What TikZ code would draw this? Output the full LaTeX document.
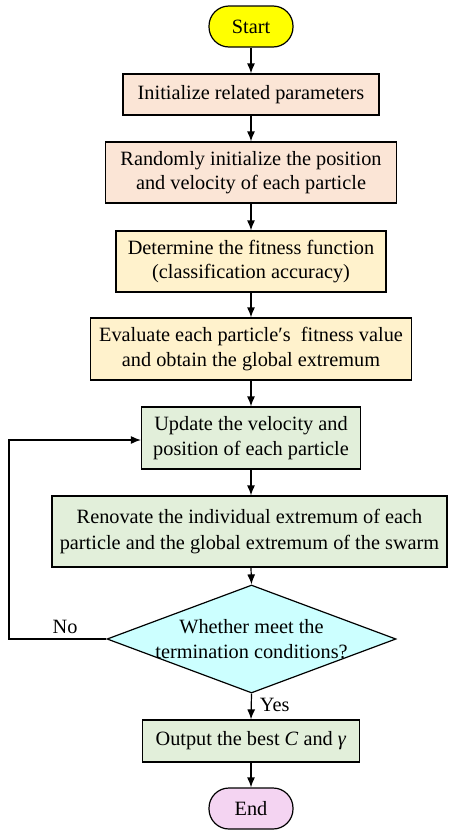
\documentclass[tikz,border=0pt]{standalone}
\usepackage{fontspec}
\setmainfont{Liberation Serif}
\usetikzlibrary{shapes.geometric,arrows.meta}
\definecolor{cstart}{HTML}{FFFF00}
\definecolor{cpeach}{HTML}{FBE5D6}
\definecolor{cyel}{HTML}{FFF2CC}
\definecolor{cgreen}{HTML}{E2EFDA}
\definecolor{ccyan}{HTML}{CCFFFF}
\definecolor{cpink}{HTML}{F4D4F2}
\begin{document}
\begin{tikzpicture}[x=1pt,y=-1pt,
  font=\fontsize{20.3}{24.5}\selectfont,
  box/.style={draw, line width=1.2pt, inner sep=0pt, align=center},
  term/.style={draw, line width=1.2pt, inner sep=0pt, rounded corners=20pt, minimum width=84pt, minimum height=41pt},
  arr/.style={line width=1.2pt, -{Latex[length=10pt,width=8pt]}},
  lbl/.style={inner sep=0pt}]
\useasboundingbox (0,0) rectangle (448,830);
\node[term, fill=cstart] (start) at (251,26.5) {Start};
\node[box, fill=cpeach, minimum width=256pt, minimum height=41pt] (b1) at (251,94.5) {Initialize related parameters};
\node[box, fill=cpeach, minimum width=291pt, minimum height=61pt] (b2) at (251,172.5) {Randomly initialize the position\\and velocity of each particle};
\node[box, fill=cyel, minimum width=270pt, minimum height=61pt] (b3) at (251,261.5) {Determine the fitness function\\(classification accuracy)};
\node[box, fill=cyel, minimum width=321pt, minimum height=62pt] (b4) at (251,349) {Evaluate each particle\char"2032s\ \ fitness value\\and obtain the global extremum};
\node[box, fill=cgreen, minimum width=219pt, minimum height=62pt] (b5) at (251,438) {Update the velocity and\\position of each particle};
\node[box, fill=cgreen, minimum width=395pt, minimum height=71pt, font=\fontsize{20.3}{26.5}\selectfont] (b6) at (249.5,531.5) {Renovate the individual extremum of each\\particle and the global extremum of the swarm};
\node[diamond, draw, line width=1.2pt, fill=ccyan, inner sep=0pt, minimum width=289pt, minimum height=108pt] (dec) at (251.5,639) {};
\node[lbl, align=center] (dect) at (dec) {Whether meet the\\termination conditions?};
\node[box, fill=cgreen, minimum width=217pt, minimum height=42pt] (out) at (251,741) {Output the best \textit{C} and \textit{γ}};
\node[term, fill=cpink] (end) at (251,808.5) {End};
\coordinate (c1) at (9,639);
\coordinate (c2) at (9,440);
\draw[arr] (start) -- (b1);
\draw[arr] (b1) -- (b2);
\draw[arr] (b2) -- (b3);
\draw[arr] (b3) -- (b4);
\draw[arr] (b4) -- (b5);
\draw[arr] (b5.south) -- (b5.south |- b6.north);
\draw[arr] (b5.south |- b6.south) -- (dec.north);
\draw[arr] (dec.south) -- (out.north) node[lbl, pos=0.45, right=8pt] (yes) {Yes};
\draw[arr] (out) -- (end);
\draw[arr] (dec.west) -- (c1) -- (c2) -- (c2 -| b5.west);
\node[lbl] (no) at (65,627) {No};
\end{tikzpicture}
\end{document}
